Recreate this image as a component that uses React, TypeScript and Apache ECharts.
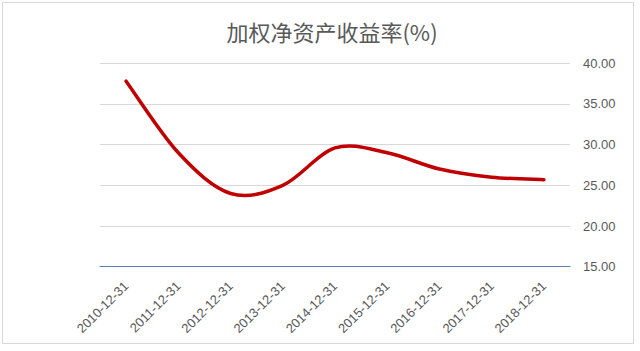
import React, { useEffect, useRef } from "react";
import * as echarts from "echarts";

const categories = [
  "2010-12-31",
  "2011-12-31",
  "2012-12-31",
  "2013-12-31",
  "2014-12-31",
  "2015-12-31",
  "2016-12-31",
  "2017-12-31",
  "2018-12-31",
];
const roeValues = [37.8, 29.0, 24.0, 25.0, 29.6, 29.0, 27.0, 26.0, 25.7];
const yTicks = { min: 15, max: 40, interval: 5 };
const titleText = "加权净资产收益率(%)";

export default function App() {
  const ref = useRef<HTMLDivElement>(null);
  useEffect(() => {
    if (!ref.current) return;
    const chart = echarts.init(ref.current, undefined, { renderer: "svg" });
    chart.setOption({
      animation: false,
      backgroundColor: "#ffffff",
      title: {
        text: titleText,
        left: 327,
        textAlign: "center",
        top: 15,
        textStyle: {
          fontFamily: "Noto Sans CJK SC",
          fontSize: 22,
          fontWeight: "normal",
          color: "#595959",
        },
      },
      graphic: [
        {
          type: "rect",
          shape: { x: 2.5, y: 2.5, width: 631, height: 341 },
          style: { fill: "none", stroke: "#d9d9d9", lineWidth: 1 },
          silent: true,
        },
      ],
      grid: { left: 100, width: 470, top: 63.3, height: 203.4 },
      xAxis: {
        type: "category",
        data: categories,
        boundaryGap: true,
        axisLine: { show: true, lineStyle: { color: "#5b7db1", width: 1 } },
        axisTick: { show: false },
        axisLabel: {
          rotate: 45,
          margin: 17,
          interval: 0,
          fontFamily: "Liberation Sans",
          fontSize: 13,
          color: "#595959",
        },
        splitLine: { show: false },
      },
      yAxis: {
        type: "value",
        position: "right",
        min: yTicks.min,
        max: yTicks.max,
        interval: yTicks.interval,
        axisLine: { show: false },
        axisTick: { show: false },
        axisLabel: {
          margin: 13,
          fontFamily: "Liberation Sans",
          fontSize: 13,
          color: "#595959",
          formatter: (v: number) => v.toFixed(2),
        },
        splitLine: { show: true, lineStyle: { color: "#d9d9d9", width: 1 } },
      },
      series: [
        {
          type: "custom",
          data: roeValues.map((v, i) => [i, v]),
          encode: { x: 0, y: 1 },
          z: 3,
          renderItem: (params: any, api: any) => {
            if (params.dataIndex !== 0) return null;
            const pts = roeValues.map((v, i) => api.coord([i, v]));
            const n = pts.length;
            let d = `M${pts[0][0]} ${pts[0][1]}`;
            for (let i = 0; i < n - 1; i++) {
              const p0 = pts[Math.max(0, i - 1)];
              const p1 = pts[i];
              const p2 = pts[i + 1];
              const p3 = pts[Math.min(n - 1, i + 2)];
              const c1x = p1[0] + (p2[0] - p0[0]) / 6;
              const c1y = p1[1] + (p2[1] - p0[1]) / 6;
              const c2x = p2[0] - (p3[0] - p1[0]) / 6;
              const c2y = p2[1] - (p3[1] - p1[1]) / 6;
              d += ` C${c1x} ${c1y} ${c2x} ${c2y} ${p2[0]} ${p2[1]}`;
            }
            return {
              type: "path",
              shape: { pathData: d },
              style: {
                fill: "none",
                stroke: "#c00000",
                lineWidth: 3.5,
                lineCap: "round",
                lineJoin: "round",
              },
              silent: true,
            };
          },
        },
      ],
    });
    return () => chart.dispose();
  }, []);
  return <div ref={ref} style={{ width: 640, height: 351, position: "absolute", left: 0, top: 0 }} />;
}
